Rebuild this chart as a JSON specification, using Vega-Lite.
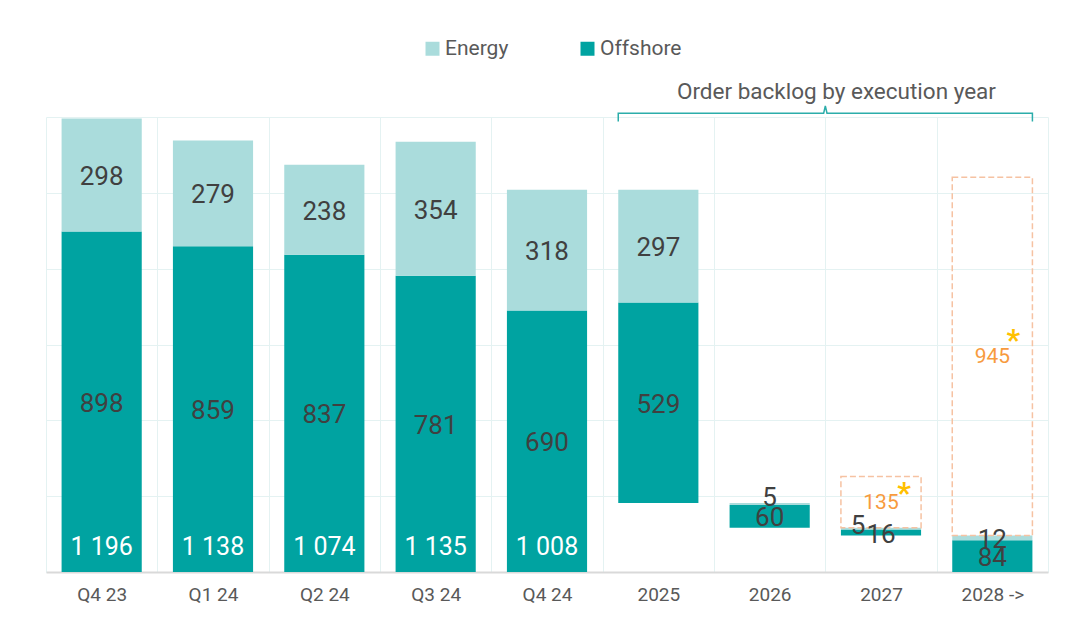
{
  "$schema": "https://vega.github.io/schema/vega-lite/v6.json",
  "width": 1002,
  "height": 455,
  "autosize": {"type": "none"},
  "padding": {"left": 46, "top": 117, "right": 36, "bottom": 61},
  "background": "white",
  "config": {"font": "Roboto", "view": {"stroke": null}},
  "datasets": {
    "bars": [
      {"cat": "Q4 23", "seg": "Offshore", "lo": 0, "hi": 898, "label": "898"},
      {"cat": "Q4 23", "seg": "Energy", "lo": 898, "hi": 1196, "label": "298"},
      {"cat": "Q1 24", "seg": "Offshore", "lo": 0, "hi": 859, "label": "859"},
      {"cat": "Q1 24", "seg": "Energy", "lo": 859, "hi": 1138, "label": "279"},
      {"cat": "Q2 24", "seg": "Offshore", "lo": 0, "hi": 837, "label": "837"},
      {"cat": "Q2 24", "seg": "Energy", "lo": 837, "hi": 1074, "label": "238"},
      {"cat": "Q3 24", "seg": "Offshore", "lo": 0, "hi": 781, "label": "781"},
      {"cat": "Q3 24", "seg": "Energy", "lo": 781, "hi": 1135, "label": "354"},
      {"cat": "Q4 24", "seg": "Offshore", "lo": 0, "hi": 690, "label": "690"},
      {"cat": "Q4 24", "seg": "Energy", "lo": 690, "hi": 1008, "label": "318"},
      {"cat": "2025", "seg": "Offshore", "lo": 182, "hi": 711, "label": "529"},
      {"cat": "2025", "seg": "Energy", "lo": 711, "hi": 1008, "label": "297"},
      {"cat": "2026", "seg": "Offshore", "lo": 117, "hi": 177, "label": "60"},
      {"cat": "2026", "seg": "Energy", "lo": 177, "hi": 182, "label": "5"},
      {"cat": "2027", "seg": "Offshore", "lo": 96, "hi": 112, "label": "16"},
      {"cat": "2027", "seg": "Energy", "lo": 112, "hi": 117, "label": "5"},
      {"cat": "2028 ->", "seg": "Offshore", "lo": 0, "hi": 84, "label": "84"},
      {"cat": "2028 ->", "seg": "Energy", "lo": 84, "hi": 96, "label": "12"}
    ],
    "totals": [
      {"cat": "Q4 23", "t": "1 196"},
      {"cat": "Q1 24", "t": "1 138"},
      {"cat": "Q2 24", "t": "1 074"},
      {"cat": "Q3 24", "t": "1 135"},
      {"cat": "Q4 24", "t": "1 008"}
    ],
    "boxes": [
      {"cat": "2027", "lo": 117, "hi": 252, "label": "135"},
      {"cat": "2028 ->", "lo": 96, "hi": 1041, "label": "945"}
    ],
    "brace": [
      {"bx": 5.14, "by": 1188, "o": 1},
      {"bx": 5.14, "by": 1210, "o": 2},
      {"bx": 6.985, "by": 1210, "o": 3},
      {"bx": 7.0, "by": 1229, "o": 4},
      {"bx": 7.015, "by": 1210, "o": 5},
      {"bx": 8.86, "by": 1210, "o": 6},
      {"bx": 8.86, "by": 1188, "o": 7}
    ],
    "note": [
      {"nx": 7.1, "ny": 1267, "text": "Order backlog by execution year"}
    ]
  },
  "resolve": {"scale": {"x": "independent"}, "axis": {"x": "independent"}},
  "layer": [
    {
      "encoding": {
        "x": {
          "field": "cat",
          "type": "nominal",
          "sort": null,
          "scale": {
            "domain": ["Q4 23", "Q1 24", "Q2 24", "Q3 24", "Q4 24", "2025", "2026", "2027", "2028 ->"],
            "paddingInner": 0,
            "paddingOuter": 0
          },
          "axis": {
            "title": null,
            "labelAngle": 0,
            "labelFontSize": 19,
            "labelColor": "#595959",
            "labelPadding": 13,
            "ticks": false,
            "tickBand": "extent",
            "grid": true,
            "gridColor": "#E4F2F2",
            "gridWidth": 1,
            "domainColor": "#D9D9D9",
            "domainWidth": 2
          }
        }
      },
      "layer": [
        {
          "data": {"name": "bars"},
          "mark": {"type": "bar", "width": {"band": 0.72}},
          "encoding": {
            "y": {
              "field": "lo",
              "type": "quantitative",
              "scale": {"domain": [0, 1200], "nice": false},
              "axis": {
                "title": null,
                "labels": false,
                "ticks": false,
                "domain": false,
                "grid": true,
                "gridColor": "#E4F2F2",
                "values": [0, 200, 400, 600, 800, 1000, 1200]
              }
            },
            "y2": {"field": "hi"},
            "color": {
              "field": "seg",
              "type": "nominal",
              "scale": {"domain": ["Energy", "Offshore"], "range": ["#AADCDC", "#00A3A1"]},
              "legend": {
                "title": null,
                "orient": "none",
                "legendX": 376,
                "legendY": -79,
                "direction": "horizontal",
                "symbolType": "square",
                "symbolSize": 196,
                "symbolStrokeWidth": 0,
                "symbolOpacity": 1,
                "labelFontSize": 21,
                "labelColor": "#595959",
                "labelOffset": 2,
                "columnPadding": 68
              }
            }
          }
        },
        {
          "data": {"name": "boxes"},
          "mark": {
            "type": "bar",
            "width": {"band": 0.72},
            "fill": "transparent",
            "stroke": "#F6C2A2",
            "strokeWidth": 1.5,
            "strokeDash": [6, 3]
          },
          "encoding": {
            "y": {"field": "lo", "type": "quantitative"},
            "y2": {"field": "hi"}
          }
        },
        {
          "data": {"name": "bars"},
          "transform": [
            {"filter": "!((datum.cat == '2026' || datum.cat == '2027') && datum.seg == 'Energy')"},
            {"calculate": "(datum.lo + datum.hi) / 2", "as": "mid"}
          ],
          "mark": {"type": "text", "fontSize": 26, "color": "#404040", "dy": 2},
          "encoding": {
            "y": {"field": "mid", "type": "quantitative"},
            "text": {"field": "label"}
          }
        },
        {
          "data": {"name": "bars"},
          "transform": [
            {"filter": "datum.cat == '2026' && datum.seg == 'Energy'"},
            {"calculate": "(datum.lo + datum.hi) / 2", "as": "mid"}
          ],
          "mark": {"type": "text", "fontSize": 26, "color": "#404040", "dy": -6},
          "encoding": {
            "y": {"field": "mid", "type": "quantitative"},
            "text": {"field": "label"}
          }
        },
        {
          "data": {"name": "bars"},
          "transform": [
            {"filter": "datum.cat == '2027' && datum.seg == 'Energy'"},
            {"calculate": "(datum.lo + datum.hi) / 2", "as": "mid"}
          ],
          "mark": {"type": "text", "fontSize": 26, "color": "#404040", "dx": -23, "dy": -3},
          "encoding": {
            "y": {"field": "mid", "type": "quantitative"},
            "text": {"field": "label"}
          }
        },
        {
          "data": {"name": "totals"},
          "mark": {"type": "text", "fontSize": 25, "color": "white", "dy": -25},
          "encoding": {
            "y": {"datum": 0, "type": "quantitative"},
            "text": {"field": "t"}
          }
        },
        {
          "data": {"name": "boxes"},
          "transform": [{"calculate": "(datum.lo + datum.hi) / 2", "as": "mid"}],
          "mark": {"type": "text", "fontSize": 21, "color": "#F79B3E", "dy": 1},
          "encoding": {
            "y": {"field": "mid", "type": "quantitative"},
            "text": {"field": "label"}
          }
        },
        {
          "data": {"name": "boxes"},
          "transform": [
            {"filter": "datum.cat == '2027'"},
            {"calculate": "(datum.lo + datum.hi) / 2", "as": "mid"}
          ],
          "mark": {"type": "text", "fontSize": 30, "color": "#FFC000", "fontWeight": "bold", "dx": 23, "dy": -8, "text": "*"},
          "encoding": {
            "y": {"field": "mid", "type": "quantitative"}
          }
        },
        {
          "data": {"name": "boxes"},
          "transform": [
            {"filter": "datum.cat == '2028 ->'"},
            {"calculate": "(datum.lo + datum.hi) / 2", "as": "mid"}
          ],
          "mark": {"type": "text", "fontSize": 30, "color": "#FFC000", "fontWeight": "bold", "dx": 21, "dy": -15, "text": "*"},
          "encoding": {
            "y": {"field": "mid", "type": "quantitative"}
          }
        }
      ]
    },
    {
      "encoding": {
        "x": {"type": "quantitative", "scale": {"domain": [0, 9], "nice": false, "zero": false}, "axis": null}
      },
      "layer": [
        {
          "data": {"name": "brace"},
          "mark": {"type": "line", "color": "#2BADAA", "strokeWidth": 1.5},
          "encoding": {
            "x": {"field": "bx", "type": "quantitative"},
            "y": {"field": "by", "type": "quantitative"},
            "order": {"field": "o"}
          }
        },
        {
          "data": {"name": "note"},
          "mark": {"type": "text", "fontSize": 22.5, "color": "#595959"},
          "encoding": {
            "x": {"field": "nx", "type": "quantitative"},
            "y": {"field": "ny", "type": "quantitative"},
            "text": {"field": "text"}
          }
        }
      ]
    }
  ]
}
